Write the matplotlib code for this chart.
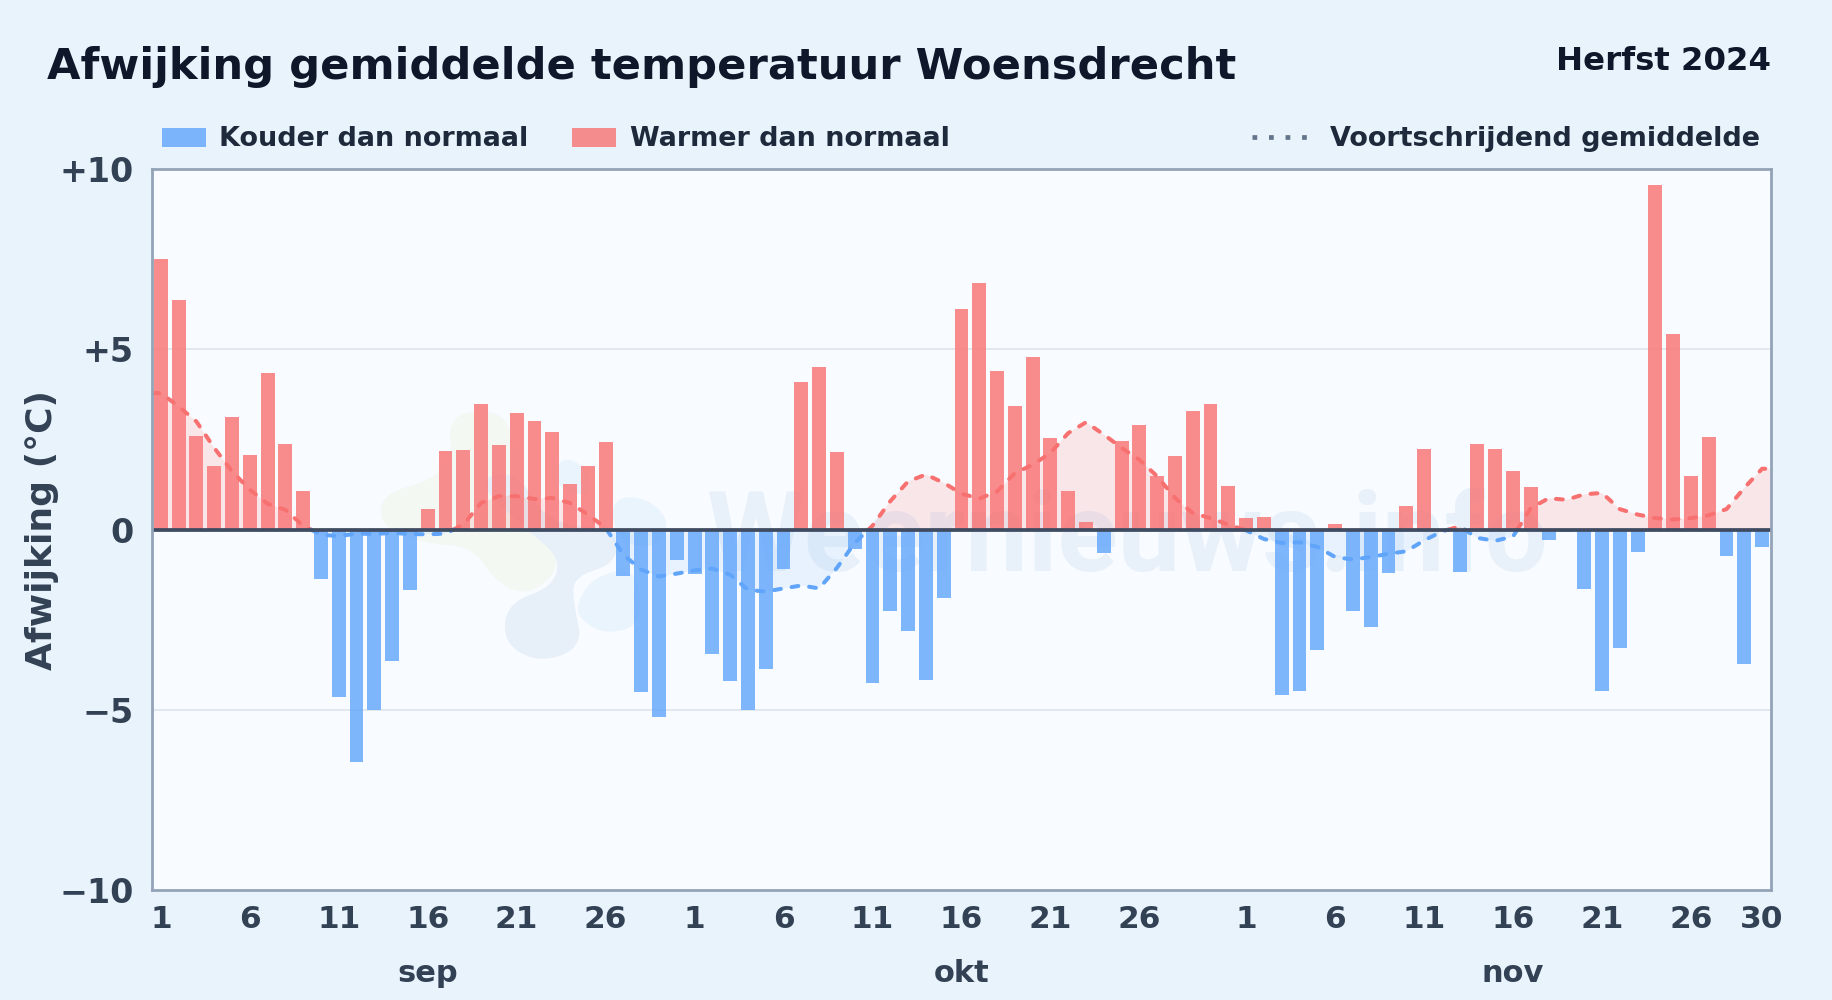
import numpy as np
import matplotlib
matplotlib.use("Agg")
import matplotlib.pyplot as plt
from matplotlib.patches import PathPatch, Patch
from matplotlib.lines import Line2D
from matplotlib.path import Path
from matplotlib.transforms import Affine2D, blended_transform_factory

W, H = 1832, 1000

TITLE = "Afwijking gemiddelde temperatuur Woensdrecht"
SUBTITLE = "Herfst 2024"
YLABEL = "Afwijking (°C)"
LEGEND_COLD = "Kouder dan normaal"
LEGEND_WARM = "Warmer dan normaal"
LEGEND_AVG = "Voortschrijdend gemiddelde"
WATERMARK = "Weernieuws.info"

anomaly_sep = [7.52, 6.36, 2.59, 1.76, 3.14, 2.08, 4.36, 2.39, 1.08, -1.36,
               -4.65, -6.46, -5.01, -3.65, -1.68, 0.58, 2.19, 2.22, 3.50, 2.36,
               3.25, 3.02, 2.72, 1.28, 1.76, 2.42, -1.30, -4.51, -5.21, -0.83]
anomaly_okt = [-1.24, -3.46, -4.21, -5.01, -3.88, -1.10, 4.11, 4.50, 2.16, -0.55,
               -4.26, -2.27, -2.82, -4.18, -1.91, 6.11, 6.85, 4.41, 3.44, 4.80,
               2.53, 1.08, 0.22, -0.66, 2.47, 2.91, 1.50, 2.03, 3.30, 3.50, 1.22]
anomaly_nov = [0.33, 0.36, -4.59, -4.48, -3.35, 0.17, -2.27, -2.71, -1.21, 0.67,
               2.25, 0.02, -1.18, 2.39, 2.25, 1.64, 1.17, -0.30, -0.07, -1.66,
               -4.49, -3.29, -0.63, 9.57, 5.44, 1.50, 2.58, -0.74, -3.74, -0.49]

moving_sep = [3.79, 3.42, 3.00, 2.27, 1.62, 1.11, 0.72, 0.55, 0.11, -0.14,
              -0.18, -0.11, -0.12, -0.09, -0.12, -0.13, -0.11, 0.14, 0.74, 0.93,
              0.93, 0.85, 0.88, 0.74, 0.42, 0.05, -0.70, -1.11, -1.30, -1.22]
moving_okt = [-1.13, -1.08, -1.25, -1.67, -1.72, -1.63, -1.55, -1.63, -1.06, -0.37,
              0.11, 0.79, 1.34, 1.53, 1.30, 1.00, 0.86, 1.06, 1.57, 1.80,
              2.13, 2.68, 2.98, 2.64, 2.27, 1.94, 1.48, 0.88, 0.46, 0.32, 0.14]
moving_nov = [-0.02, -0.26, -0.37, -0.35, -0.48, -0.76, -0.83, -0.76, -0.67, -0.60,
              -0.30, -0.05, 0.09, -0.23, -0.31, -0.19, 0.60, 0.87, 0.83, 0.98,
              1.02, 0.57, 0.42, 0.32, 0.28, 0.32, 0.40, 0.57, 1.16, 1.69]

months = ["sep", "okt", "nov"]
month_label_days = [16, 46, 77]
tick_days = [1, 6, 11, 16, 21, 26, 31, 36, 41, 46, 51, 56, 62, 67, 72, 77, 82, 87, 91]
tick_labels = ["1", "6", "11", "16", "21", "26", "1", "6", "11", "16", "21", "26",
               "1", "6", "11", "16", "21", "26", "30"]
y_ticks = [-10, -5, 0, 5, 10]
y_labels = ["\u221210", "\u22125", "0", "+5", "+10"]

BG = "#e9f3fc"
PLOT_BG = "#f8fbff"
RED = "#f87171"
BLUE = "#60a5fa"
INK = "#334155"

values = np.array(anomaly_sep + anomaly_okt + anomaly_nov)
moving = np.array(moving_sep + moving_okt + moving_nov)
days = np.arange(1, len(values) + 1)

plt.rcParams["font.family"] = "DejaVu Sans"
plt.rcParams["font.weight"] = "bold"
plt.rcParams["axes.labelweight"] = "bold"

fig = plt.figure(figsize=(W / 100, H / 100), dpi=100, facecolor=BG)
L, R, T, B = 152.3, 1771.0, 169.3, 890.0
ax = fig.add_axes([L / W, 1 - B / H, (R - L) / W, (B - T) / H], facecolor=PLOT_BG)
px = Affine2D().scale(1 / W, -1 / H).translate(0, 1) + fig.transFigure


def blob(points, color):
    pts = np.array(points, float)
    mids = (pts + np.roll(pts, -1, axis=0)) / 2
    verts = [mids[-1]]
    codes = [Path.MOVETO]
    for p, m in zip(pts, mids):
        verts += [p, m]
        codes += [Path.CURVE3, Path.CURVE3]
    ax.add_patch(PathPatch(Path(verts, codes), fc=color, ec="none", transform=px, zorder=0.2))


def zoom7(points):
    return [(360 + x / 3, 390 + y / 3) for x, y in points]


blob(zoom7([(265, 130), (290, 70), (400, 60), (455, 110), (470, 240), (570, 440), (600, 540),
            (500, 620), (400, 570), (340, 470), (180, 460), (55, 400), (70, 310), (220, 270), (280, 190)]), "#f3f8f3")
blob(zoom7([(340, 270), (470, 240), (560, 400), (770, 420), (770, 520), (640, 560), (640, 640), (670, 770),
            (540, 820), (430, 760), (440, 640), (580, 590), (600, 500), (500, 420)]), "#e7f0f9")
blob(zoom7([(650, 640), (700, 560), (830, 530), (850, 700), (740, 735), (660, 690)]), "#e9f4fd")
blob(zoom7([(750, 325), (860, 320), (935, 400), (880, 480), (770, 450)]), "#e9f4fd")
blob(zoom7([(590, 205), (665, 215), (700, 320), (590, 300)]), "#e9f4fd")
ax.text(1127, 540, WATERMARK, transform=px, ha="center", va="center", fontsize=80.5,
        family="Roboto", weight="bold", color="#e8f1fa", zorder=0.3)

ax.set_xlim(0.52, len(values) + 0.5)
ax.set_ylim(-10, 10)
ax.set_yticks(y_ticks, y_labels)
ax.set_xticks(tick_days, tick_labels)
ax.tick_params(axis="y", length=0, pad=13.4, labelsize=24, labelcolor=INK)
ax.tick_params(axis="x", length=0, pad=11, labelsize=22.5, labelcolor=INK)
ax.set_ylabel(YLABEL, fontsize=26, color=INK)
ax.yaxis.set_label_coords(-0.0575, 0.5)
for s in ax.spines.values():
    s.set_color("#94a3b8")
    s.set_linewidth(2)
    s.set_zorder(6)
for y in (-5, 5):
    ax.axhline(y, color="#e2e8f0", lw=1.4, zorder=0.5)

# moving average: extended flat to the frame, split at zero crossings
xs = np.r_[ax.get_xlim()[0], days, ax.get_xlim()[1]].astype(float)
ys = np.r_[moving[0], moving, moving[-1]]
xz, yz = [xs[0]], [ys[0]]
for i in range(1, len(xs)):
    if ys[i - 1] * ys[i] < 0:
        xz.append(xs[i - 1] + (xs[i] - xs[i - 1]) * ys[i - 1] / (ys[i - 1] - ys[i]))
        yz.append(0.0)
    xz.append(xs[i])
    yz.append(ys[i])
xz, yz = np.array(xz), np.array(yz)
ax.fill_between(xz, 0, yz, where=yz >= 0, color=RED, alpha=0.15, lw=0, zorder=1)
ax.fill_between(xz, 0, yz, where=yz <= 0, color=BLUE, alpha=0.10, lw=0, zorder=1)
dash = (0, (1.7, 2.7))
ax.plot(xz, np.ma.masked_less(yz, 0), color=RED, lw=2.9, ls=dash, dash_capstyle="round", zorder=2)
ax.plot(xz, np.ma.masked_greater(yz, 0), color=BLUE, lw=2.9, ls=dash, dash_capstyle="round", zorder=2)

colors = [RED if v >= 0 else BLUE for v in values]
ax.bar(days, values, width=0.78, color=colors, alpha=0.8, lw=0, zorder=3)
ax.axhline(0, color="#3f4b60", lw=2.7, zorder=5)

month_tf = blended_transform_factory(ax.transData, px)
for name, d in zip(months, month_label_days):
    ax.text(d, 973, name, transform=month_tf, ha="center", va="center", fontsize=22, color=INK, clip_on=False)

fig.text(47 / W, 1 - 79 / H, TITLE, fontsize=31.15, color="#0f172a", ha="left", va="baseline")
fig.text(1771 / W, 1 - 70 / H, SUBTITLE, fontsize=23.3, color="#0f172a", ha="right", va="baseline")

fs = 19.45
kw = dict(frameon=False, fontsize=fs, labelcolor="#1e293b", borderpad=0, borderaxespad=0, handleheight=0.7)
h1 = [Patch(fc=BLUE, alpha=0.8, lw=0, label=LEGEND_COLD), Patch(fc=RED, alpha=0.8, lw=0, label=LEGEND_WARM)]
leg1 = fig.legend(handles=h1, loc="center left", bbox_to_anchor=(162 / W, 1 - 139.5 / H), ncols=2,
                  handlelength=1.63, handletextpad=0.49, columnspacing=1.62, **kw)
h2 = [Line2D([], [], color="#64748b", lw=3.4, ls=(0, (1, 2.5)), label=LEGEND_AVG)]
leg2 = fig.legend(handles=h2, loc="center right", bbox_to_anchor=(1760 / W, 1 - 139.5 / H),
                  handlelength=2.1, handletextpad=0.78, **kw)

fig.savefig("out.png", dpi=100, facecolor=BG)
